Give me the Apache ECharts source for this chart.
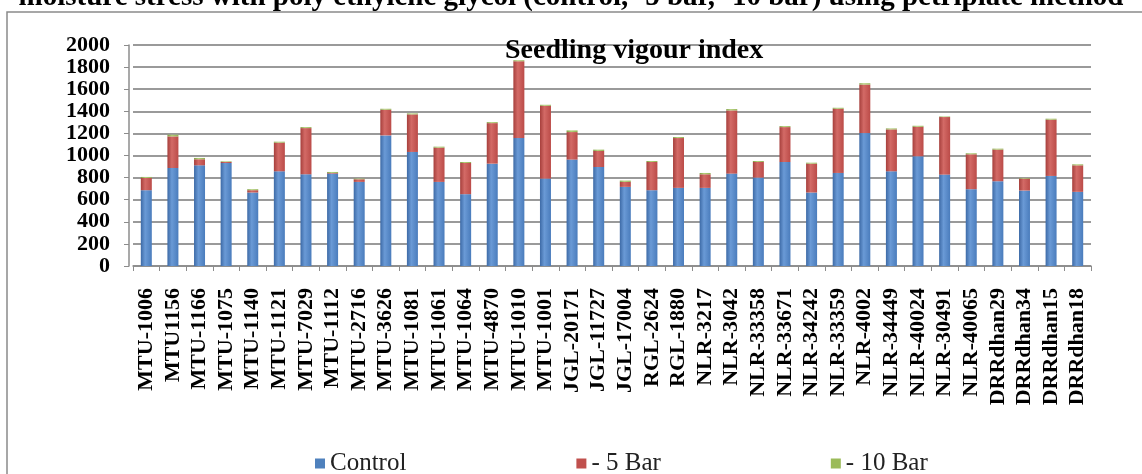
<!DOCTYPE html>
<html>
<head>
<meta charset="utf-8">
<title>Seedling vigour index</title>
<script src="https://cdn.jsdelivr.net/npm/echarts@6.0.0/dist/echarts.min.js"></script>
<style>
    html, body { margin: 0; padding: 0; background: #fff; }
    #chartMain { width: 1142px; height: 474px; }
</style>
</head>
<body>
<div id="chartMain"></div>
<script>
// genotypes on the x axis
var categories = [
    'MTU-1006', 'MTU1156', 'MTU-1166', 'MTU-1075', 'MTU-1140', 'MTU-1121', 'MTU-7029',
    'MTU-1112', 'MTU-2716', 'MTU-3626', 'MTU-1081', 'MTU-1061', 'MTU-1064', 'MTU-4870',
    'MTU-1010', 'MTU-1001', 'JGL-20171', 'JGL-11727', 'JGL-17004', 'RGL-2624', 'RGL-1880',
    'NLR-3217', 'NLR-3042', 'NLR-33358', 'NLR-33671', 'NLR-34242', 'NLR-33359', 'NLR-4002',
    'NLR-34449', 'NLR-40024', 'NLR-30491', 'NLR-40065', 'DRRdhan29', 'DRRdhan34',
    'DRRdhan15', 'DRRdhan18'
];

// stacked values
var controlData = [686, 887, 911, 932, 665, 857, 830, 836, 761, 1182, 1032, 761, 650, 926,
    1158, 791, 963, 896, 716, 686, 707, 707, 836, 800, 941, 665, 842, 1203, 857, 993, 827,
    695, 767, 683, 815, 671];
var bar5Data = [111, 286, 55, 9, 21, 259, 418, 6, 24, 232, 340, 310, 282, 367, 695, 659, 249,
    145, 45, 255, 451, 123, 572, 141, 316, 261, 581, 439, 379, 267, 521, 316, 286, 108, 509, 240];
var bar10Data = [9, 15, 12, 6, 9, 9, 9, 9, 6, 9, 9, 9, 9, 9, 9, 9, 15, 12, 12, 9, 9, 12, 12, 9,
    9, 9, 9, 12, 9, 9, 5, 9, 9, 6, 9, 9];

var yTicks = [0, 200, 400, 600, 800, 1000, 1200, 1400, 1600, 1800, 2000];

var serif = '"Liberation Serif", "DejaVu Serif", serif';

// cylinder-ish shading for each colour
function cyl(dark, mid, light) {
    return new echarts.graphic.LinearGradient(0, 0, 1, 0, [
        { offset: 0, color: dark },
        { offset: 0.4, color: light },
        { offset: 1, color: mid }
    ]);
}

var option = {
    backgroundColor: '#fff',
    animation: false,
    title: [
        {
            text: 'moisture stress with poly ethylene glycol (control, -5 bar, -10 bar) using petriplate method',
            left: 'center',
            top: -17,
            padding: 0,
            textStyle: { fontFamily: serif, fontWeight: 'bold', fontSize: 29, color: '#000' }
        },
        {
            text: 'Seedling vigour index',
            left: 505,
            top: 37,
            padding: 0,
            textStyle: { fontFamily: serif, fontWeight: 'bold', fontSize: 28, color: '#000' }
        }
    ],
    legend: {
        left: 310,
        top: 446,
        itemWidth: 10,
        itemHeight: 10,
        itemGap: 170,
        icon: 'rect',
        textStyle: { fontFamily: serif, fontSize: 25, color: '#222' },
        data: ['Control', '- 5 Bar', '- 10 Bar']
    },
    grid: {
        left: 133,
        right: 51,
        top: 45,
        bottom: 208
    },
    xAxis: {
        type: 'category',
        data: categories,
        offset: 4,
        axisLine: { lineStyle: { color: '#8c8c8c', width: 1.5 } },
        axisTick: { show: true, length: 5, lineStyle: { color: '#8c8c8c' } },
        axisLabel: {
            rotate: 90,
            margin: 18,
            interval: 0,
            fontFamily: serif,
            fontWeight: 'bold',
            fontSize: 22,
            color: '#000'
        }
    },
    yAxis: {
        type: 'value',
        min: yTicks[0],
        max: yTicks[yTicks.length - 1],
        interval: 200,
        offset: 4,
        axisLine: { show: true, lineStyle: { color: '#8c8c8c', width: 1.5 } },
        axisTick: { show: true, length: 5, lineStyle: { color: '#8c8c8c' } },
        axisLabel: {
            margin: 19,
            fontFamily: serif,
            fontWeight: 'bold',
            fontSize: 22,
            color: '#000',
            formatter: function (v) {
                return String(v);
            }
        },
        splitLine: { lineStyle: { color: '#9a9a9a', width: 2 } }
    },
    series: [
        {
            name: 'Control',
            type: 'bar',
            stack: 'sv',
            barWidth: 11,
            data: controlData,
            itemStyle: { color: cyl('#3d6aa6', '#4a7cbc', '#6a9ad6') }
        },
        {
            name: '- 5 Bar',
            type: 'bar',
            stack: 'sv',
            barWidth: 11,
            data: bar5Data,
            itemStyle: { color: cyl('#a63f3c', '#bb4b48', '#d36a66') }
        },
        {
            name: '- 10 Bar',
            type: 'bar',
            stack: 'sv',
            barWidth: 11,
            data: bar10Data,
            itemStyle: { color: cyl('#7f9e44', '#92b254', '#b2cf78') }
        }
    ],
    graphic: [
        {
            // outer frame of the chart
            type: 'rect',
            z: -1,
            shape: { x: 7, y: 12, width: 1140, height: 470 },
            style: { fill: 'none', stroke: '#8a8a8a', lineWidth: 1.5 }
        }
    ]
};

// legend icons take their colour from the series, give them flat ones
option.legend.data = [
    { name: 'Control', itemStyle: { color: '#4f81bd' } },
    { name: '- 5 Bar', itemStyle: { color: '#c0504d' } },
    { name: '- 10 Bar', itemStyle: { color: '#9bbb59' } }
];

var mychart = echarts.init(document.getElementById('chartMain'));
mychart.setOption(option);
</script>
</body>
</html>
